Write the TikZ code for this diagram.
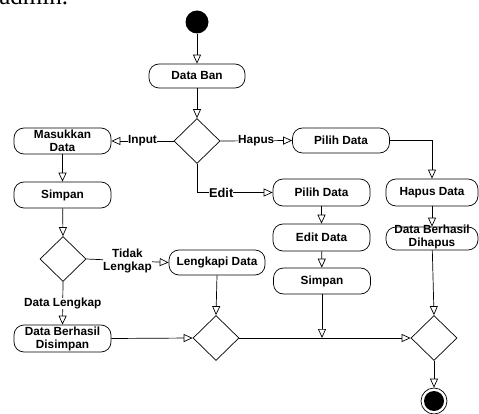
\documentclass[tikz,border=0pt]{standalone}
\usepackage{fontspec}
\setmainfont{Liberation Sans}
\newfontfamily\seriffont{Liberation Serif}
\usetikzlibrary{arrows.meta,shapes.geometric}

\begin{document}
\begin{tikzpicture}[x=1pt,y=-1pt,
  line width=0.7pt,
  lettering/.style={font=\bfseries\fontsize{11.8}{13}\selectfont, align=center, inner sep=0pt},
  act/.style={draw, rounded corners=10pt, minimum width=97pt, minimum height=26pt, inner sep=0pt, lettering},
  dec/.style={draw, diamond, minimum width=46pt, minimum height=45pt, inner sep=0pt},
  flow/.style={-{Triangle[open,length=9pt,width=8pt]}},
  guard/.style={fill=white, inner sep=1.5pt, lettering}
]
\useasboundingbox (0,0) rectangle (479,414);

% tail of the preceding line of text
\node[anchor=base west, inner sep=0pt, font=\seriffont\fontsize{25}{25}\selectfont] (frag) at (-1,5) {admin.};

% initial and final states
\node[circle, fill=black, minimum size=23pt, inner sep=0pt] (start) at (197,22) {};
\node[circle, draw, minimum size=26pt, inner sep=0pt] (finish) at (434,401) {};
\fill (finish.center) circle (10pt);

% activities
\node[act, minimum width=96pt, minimum height=24pt] (databan) at (197,76) {Data Ban};
\node[act] (masuk) at (62.5,141) {Masukkan\\Data};
\node[act, minimum height=25pt] (pilih1) at (341,140.5) {Pilih Data};
\node[act, minimum height=27pt] (pilih2) at (321.5,192.5) {Pilih Data};
\node[act, minimum width=92pt, minimum height=27pt] (hapus) at (432,192.5) {Hapus Data};
\node[act, minimum width=92pt, minimum height=23pt] (dihapus) at (432,238.5) {};
\node[lettering] (dihapustxt) at (432,237) {Data Berhasil\\Dihapus};
\node[act, minimum height=27pt] (editdata) at (321.5,237.5) {Edit Data};
\node[act] (simpan2) at (322,281) {Simpan};
\node[act] (simpan1) at (62.5,195) {Simpan};
\node[act, minimum width=96pt, minimum height=25pt] (lengkapi) at (217,262.5) {Lengkapi Data};
\node[act, minimum height=27pt] (disimpan) at (62.5,338.5) {};
\node[lettering] (disimpantxt) at (62.5,338.5) {Data Berhasil\\Disimpan};

% decisions and merges
\node[dec] (d1) at (197,141) {};
\node[dec] (d2) at (63,259) {};
\node[dec] (d3) at (216,338) {};
\node[dec] (d4) at (434,338) {};
\coordinate (join) at (simpan2.south |- d4.west);

% flows
\draw[flow] (start) -- (databan);
\draw[flow] (databan) -- (d1.north);
\draw[flow] (d1.west) -- node[guard] {Input} (masuk.east);
\draw[flow] (d1.east) -- node[guard] {Hapus} (pilih1.west);
\draw[flow] (d1.south) |- node[guard, pos=0.66, font=\bfseries\fontsize{12.8}{13}\selectfont] {Edit} (pilih2.west);
\draw[flow] (pilih1.east) -| (hapus.north);
\draw[flow] (hapus) -- (dihapus);
\draw[flow] (dihapus) -- (d4.north);
\draw[flow] (pilih2) -- (editdata);
\draw[flow] (editdata) -- (simpan2);
\draw[flow] (simpan2.south) -- (join);
\draw[flow] (d3.east) -- (d4.west);
\draw[flow] (masuk) -- (simpan1);
\draw[flow] (simpan1) -- (d2.north);
\draw[flow] (d2.east) -- node[guard] {Tidak\\Lengkap} (lengkapi.west);
\draw[flow] (d2.south) -- node[guard] {Data Lengkap} (disimpan.north);
\draw[flow] (disimpan.east) -- (d3.west);
\draw[flow] (lengkapi.south) -- (d3.north);
\draw[flow] (d4.south) -- (finish);
\end{tikzpicture}
\end{document}
